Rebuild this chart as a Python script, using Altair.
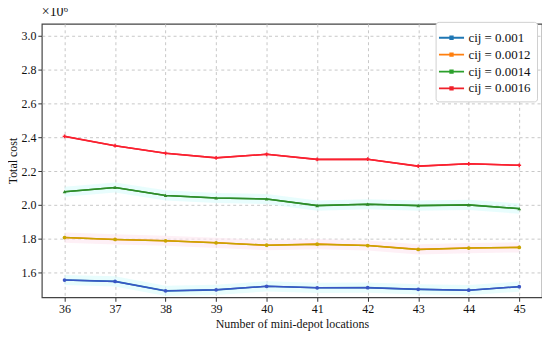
import altair as alt
import pandas as pd

locations = [36, 37, 38, 39, 40, 41, 42, 43, 44, 45]
series_names = ["cij = 0.001", "cij = 0.0012", "cij = 0.0014", "cij = 0.0016"]
cost_0010 = [1.556, 1.548, 1.492, 1.498, 1.519, 1.510, 1.511, 1.501, 1.496, 1.517]
cost_0012 = [1.807, 1.796, 1.788, 1.776, 1.762, 1.768, 1.760, 1.737, 1.745, 1.749]
cost_0014 = [2.078, 2.103, 2.056, 2.041, 2.035, 1.996, 2.004, 1.996, 2.000, 1.978]
cost_0016 = [2.405, 2.350, 2.305, 2.278, 2.299, 2.269, 2.270, 2.229, 2.243, 2.234]
y_ticks = [1.6, 1.8, 2.0, 2.2, 2.4, 2.6, 2.8, 3.0]

legend_colors = ["#1f77b4", "#ff7f0e", "#2ca02c", "#f0202a"]
line_colors = ["#3a56c4", "#c9a400", "#2f8a2a", "#fb2030"]
band_colors = ["#d8fbfb", "#fde6f0", "#d8fbfb", "#ffffff"]
shapes = ["circle", "circle", "triangle-up", "cross"]

rows = []
for name, vals in zip(series_names, [cost_0010, cost_0012, cost_0014, cost_0016]):
    for x, v in zip(locations, vals):
        rows.append({"loc": x, "cost": v, "series": name, "lo": v - 0.03, "hi": v + 0.03})
df = pd.DataFrame(rows)

font = "Liberation Serif"
xscale = alt.Scale(domain=[35.55, 45.45], nice=False, zero=False)
yscale = alt.Scale(domain=[1.454, 3.07], nice=False, zero=False)

x_axis = alt.Axis(values=locations, format="d", title="Number of mini-depot locations",
                  titlePadding=4)
y_axis = alt.Axis(values=y_ticks, format=".1f", title="Total cost", titlePadding=1)

base = alt.Chart(df)

bands = base.transform_filter(alt.datum.series != "cij = 0.0016").mark_area(opacity=0.6).encode(
    x=alt.X("loc:Q", scale=xscale, axis=x_axis),
    y=alt.Y("lo:Q", scale=yscale, axis=y_axis),
    y2="hi:Q",
    color=alt.Color("series:N", scale=alt.Scale(domain=series_names, range=band_colors), legend=None),
)

legend_path = "M-1.4,0L1.4,0M-0.14,-0.14L0.14,-0.14L0.14,0.14L-0.14,0.14Z"
lines_legend = base.mark_line(strokeWidth=1.6).encode(
    x=alt.X("loc:Q", scale=xscale, axis=x_axis),
    y=alt.Y("cost:Q", scale=yscale, axis=y_axis),
    color=alt.Color("series:N", scale=alt.Scale(domain=series_names, range=legend_colors),
                    legend=alt.Legend(title=None, orient="none", legendX=396, legendY=-2,
                                      symbolType=legend_path, symbolSize=324, symbolStrokeWidth=1.8,
                                      labelFont=font, labelFontSize=13, labelColor="#111",
                                      rowPadding=0, padding=6, fillColor="white",
                                      strokeColor="#d0d0d0", cornerRadius=3, labelOffset=7)),
)

lines_top = base.mark_line(strokeWidth=1.5).encode(
    x=alt.X("loc:Q", scale=xscale, axis=x_axis),
    y=alt.Y("cost:Q", scale=yscale, axis=y_axis),
    color=alt.Color("series:N", scale=alt.Scale(domain=series_names, range=line_colors), legend=None),
)

points = base.mark_point(filled=True, size=14, opacity=1).encode(
    x=alt.X("loc:Q", scale=xscale, axis=x_axis),
    y=alt.Y("cost:Q", scale=yscale, axis=y_axis),
    color=alt.Color("series:N", scale=alt.Scale(domain=series_names, range=line_colors), legend=None),
    shape=alt.Shape("series:N", scale=alt.Scale(domain=series_names, range=shapes), legend=None),
)

chart = alt.layer(bands, lines_legend, lines_top, points).resolve_scale(
    color="independent", shape="independent"
).properties(
    width=503, height=275,
    autosize=alt.AutoSizeParams(type="none"),
    padding={"left": 34, "top": 15, "right": 0, "bottom": 40},
    title=alt.TitleParams("×10⁶", anchor="start", frame="group", font=font, fontSize=14,
                          fontWeight="normal", color="#111", offset=2),
).configure_view(stroke="#444", strokeWidth=1.2).configure_axis(
    grid=True, gridDash=[3, 3], gridColor="#c8c8c8", tickColor="#333",
    tickSize=4, domain=False, labelFont=font, labelFontSize=12,
    labelColor="#111", titleFont=font, titleFontSize=12,
    titleFontWeight="normal", titleColor="#111", labelOverlap=False,
    labelPadding=2,
)

chart.save("out.html", embed_options={"renderer": "svg", "actions": False})
